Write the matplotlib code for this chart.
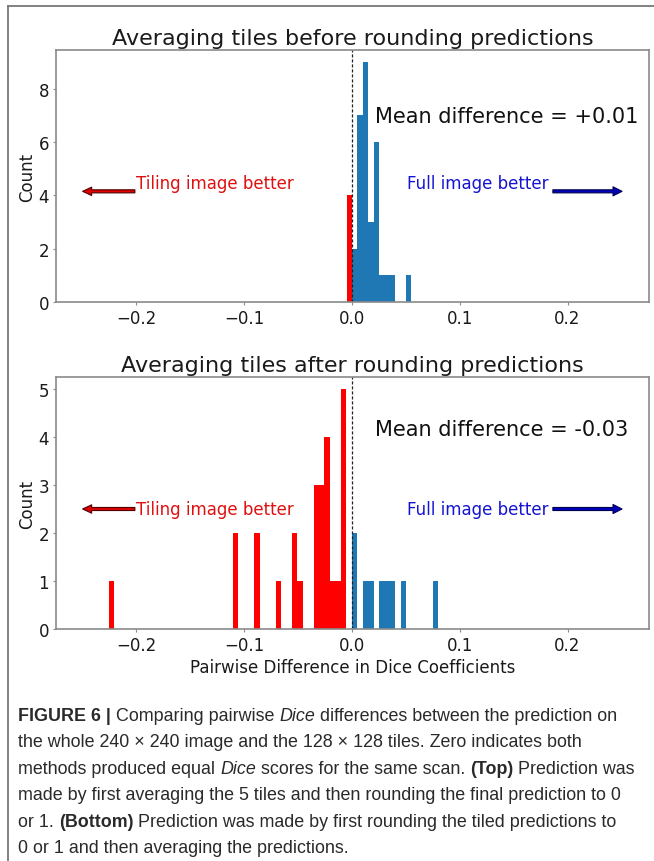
import matplotlib
matplotlib.use('Agg')
from matplotlib import pyplot as plt
from matplotlib import font_manager
from matplotlib.lines import Line2D

# histogram counts (bin width 0.005)
bin_width = 0.005

top_red_start = -0.005
top_red_counts = [4]
top_blue_start = 0.0
top_blue_counts = [2, 7, 9, 3, 6, 1, 1, 1, 0, 0, 1]
top_mean = "+0.01"

bot_red_start = -0.2256
bot_red_counts = [1] + [0] * 22 + [2, 0, 0, 0, 2, 0, 0, 0, 1, 0, 0, 2, 1, 0, 0, 3, 3, 4, 1, 1, 5]
bot_blue_start = 0.0
bot_blue_counts = [2, 0, 1, 1, 0, 1, 1, 1, 0, 1, 0, 0, 0, 0, 0, 1]
bot_mean = "-0.03"

titles = ["Averaging tiles before rounding predictions",
          "Averaging tiles after rounding predictions"]
xticks = [-0.2, -0.1, 0.0, 0.1, 0.2]

# caption: (text, style, space before)
caption = [
    [("FIGURE 6 |", "b", False), ("Comparing pairwise", "n", True), ("Dice", "i", True),
     ("differences between the prediction on", "n", True)],
    [("the whole 240 \u00d7 240 image and the 128 \u00d7 128 tiles. Zero indicates both", "n", False)],
    [("methods produced equal", "n", False), ("Dice", "i", True),
     ("scores for the same scan.", "n", True), ("(Top)", "b", True), ("Prediction was", "n", True)],
    [("made by first averaging the 5 tiles and then rounding the final prediction to 0", "n", False)],
    [("or 1.", "n", False), ("(Bottom)", "b", True),
     ("Prediction was made by first rounding the tiled predictions to", "n", True)],
    [("0 or 1 and then averaging the predictions.", "n", False)],
]

W, H = 654, 862
fig = plt.figure(figsize=(W / 100, H / 100), dpi=100)
fig.patch.set_facecolor('white')

ax1 = fig.add_axes([56 / W, 1 - 303 / H, 593 / W, 252 / H])
ax2 = fig.add_axes([56 / W, 1 - 630 / H, 593 / W, 252 / H])


def draw_hist(ax, red_start, red_counts, blue_start, blue_counts):
    red_left = [red_start + i * bin_width for i in range(len(red_counts))]
    blue_left = [blue_start + i * bin_width for i in range(len(blue_counts))]
    ax.bar(red_left, red_counts, width=bin_width, align='edge', color='red', linewidth=0)
    ax.bar(blue_left, blue_counts, width=bin_width, align='edge', color='#1f77b4', linewidth=0)
    ax.axvline(0, color='#222222', linestyle='--', linewidth=0.9, dashes=(2.5, 1.5))


def style_axes(ax, title, ymax):
    ax.set_xlim(-0.2747, 0.2756)
    ax.set_ylim(0, ymax)
    ax.set_xticks(xticks)
    for sp in ax.spines.values():
        sp.set_color('#8a8a8a')
        sp.set_linewidth(1.2)
    ax.tick_params(colors='#8a8a8a', labelcolor='#1a1a1a', labelsize=12, length=2.5, pad=2.5)
    ax.set_title(title, fontsize=16, pad=4, color='#1a1a1a')
    ax.set_ylabel('Count', fontsize=12, labelpad=2, color='#1a1a1a')


def arrows(ax, y_arrow, y_text):
    ax.annotate('', xy=(-0.25, y_arrow), xytext=(-0.2015, y_arrow),
                arrowprops=dict(facecolor='#dd0000', edgecolor='#500000', linewidth=0.8,
                                width=2.2, headwidth=6, headlength=6.5, shrink=0))
    ax.text(-0.2, y_text, 'Tiling image better', color='#e01010', fontsize=12, va='center')
    ax.annotate('', xy=(0.2506, y_arrow), xytext=(0.1864, y_arrow),
                arrowprops=dict(facecolor='#0000b8', edgecolor='#000050', linewidth=0.8,
                                width=2.2, headwidth=6.5, headlength=6.5, shrink=0))
    ax.text(0.0508, y_text, 'Full image better', color='#1414d2', fontsize=12, va='center')


draw_hist(ax1, top_red_start, top_red_counts, top_blue_start, top_blue_counts)
style_axes(ax1, titles[0], 9.45)
arrows(ax1, 4.15, 4.48)
ax1.text(0.0214, 6.98, 'Mean difference = ' + top_mean, fontsize=15, va='center', color='#111111')

draw_hist(ax2, bot_red_start, bot_red_counts, bot_blue_start, bot_blue_counts)
style_axes(ax2, titles[1], 5.25)
arrows(ax2, 2.5, 2.5)
ax2.text(0.0214, 4.17, 'Mean difference = ' + bot_mean, fontsize=15, va='center', color='#111111')
ax2.set_xlabel('Pairwise Difference in Dice Coefficients', fontsize=12, labelpad=3, color='#1a1a1a')

# page frame lines
fig.add_artist(Line2D([8 / W, 1], [1 - 6.5 / H, 1 - 6.5 / H], transform=fig.transFigure,
                      color='#777777', linewidth=1.3))
fig.add_artist(Line2D([8 / W, 8 / W], [0, 1 - 6.5 / H], transform=fig.transFigure,
                      color='#777777', linewidth=1.3))


# caption
def pick_font(names):
    for n in names:
        try:
            font_manager.findfont(n, fallback_to_default=False)
            return n
        except ValueError:
            pass
    return 'DejaVu Sans'


cap_font = pick_font(['Liberation Sans Narrow', 'Liberation Sans', 'DejaVu Sans'])
styles = {'n': {}, 'b': {'fontweight': 'bold'}, 'i': {'fontstyle': 'italic'}}
renderer = fig.canvas.get_renderer()


def text_width(s, size, st):
    t = fig.text(0, 0, s, fontsize=size, family=cap_font, **styles[st])
    w = t.get_window_extent(renderer).width
    t.remove()
    return w


def line_width(segs, size):
    sp = text_width('a a', size, 'n') - text_width('aa', size, 'n')
    total = 0
    for s, st, space in segs:
        if space:
            total += sp
        total += text_width(s, size, st)
    return total


cap_size = 12 * 619 / line_width(caption[2], 12)
space_w = text_width('a a', cap_size, 'n') - text_width('aa', cap_size, 'n')
baselines = [721, 747.5, 774, 800.5, 827, 853.5]
for segs, yb in zip(caption, baselines):
    x = 18
    for s, st, space in segs:
        if space:
            x += space_w
        fig.text(x / W, 1 - yb / H, s, fontsize=cap_size, family=cap_font, va='baseline',
                 color='#2a2a2a', **styles[st])
        x += text_width(s, cap_size, st)

fig.savefig('out.png', dpi=100)
